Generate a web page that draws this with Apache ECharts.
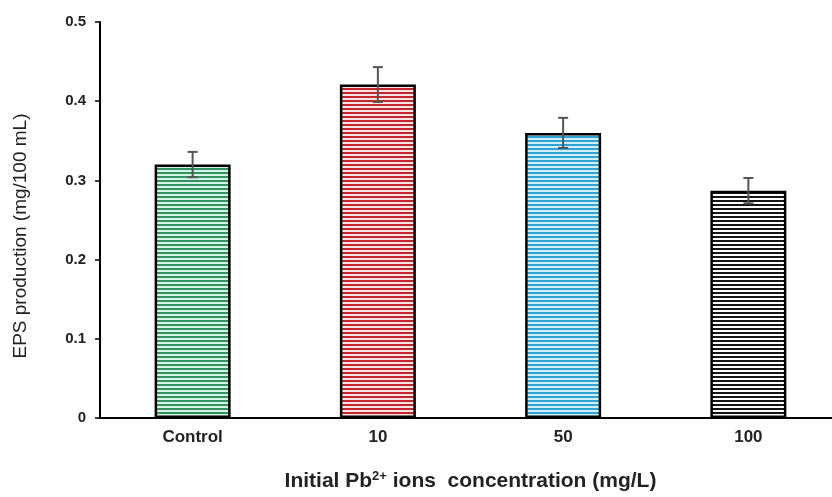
<!DOCTYPE html>
<html>
<head>
<meta charset="utf-8">
<script src="https://cdn.jsdelivr.net/npm/echarts@6/dist/echarts.min.js"></script>
<style>
  html, body { margin: 0; padding: 0; background: #fff; overflow: hidden; }
  #chart { width: 841px; height: 497px; }
</style>
</head>
<body>
<div id="chart"></div>
<script>
var categories = ["Control", "10", "50", "100"];
var epsValues = [0.320, 0.421, 0.360, 0.287];
var epsErrors = [0.016, 0.022, 0.019, 0.016];
var yTicks = [0, 0.1, 0.2, 0.3, 0.4, 0.5];

// striped fill colours per bar: [dark line, light gap]
var stripeColors = [
  ["#2f9461", "#d6f4e6"],
  ["#c3262c", "#fde3e3"],
  ["#2ea4d2", "#d2f0fb"],
  ["#141414", "#ffffff"]
];

function stripe(dark, light) {
  var c = document.createElement("canvas");
  c.width = 8;
  c.height = 4;
  var ctx = c.getContext("2d");
  ctx.fillStyle = light;
  ctx.fillRect(0, 0, 8, 4);
  ctx.fillStyle = dark;
  ctx.fillRect(0, 0, 8, 2);
  return { image: c, repeat: "repeat" };
}

var myChart = echarts.init(document.getElementById("chart"));

var barData = epsValues.map(function (v, i) {
  return {
    value: v,
    itemStyle: { color: stripe(stripeColors[i][0], stripeColors[i][1]) }
  };
});

var errData = epsValues.map(function (v, i) {
  return [i, v - epsErrors[i], v + epsErrors[i]];
});

var option = {
  animation: false,
  grid: { left: 100, right: 0, top: 22, height: 396, containLabel: false },
  xAxis: {
    type: "category",
    data: categories,
    axisLine: { lineStyle: { color: "#000", width: 2 } },
    axisTick: { show: false },
    axisLabel: {
      color: "#222",
      fontFamily: "Liberation Sans",
      fontWeight: "bold",
      fontSize: 17,
      margin: 11
    },
    name: "Initial Pb{sup|2+} ions  concentration (mg/L)",
    nameLocation: "middle",
    nameGap: 52,
    nameTextStyle: {
      color: "#222",
      fontFamily: "Liberation Sans",
      fontWeight: "bold",
      fontSize: 21,
      rich: {
        sup: {
          fontFamily: "Liberation Sans",
          fontWeight: "bold",
          fontSize: 13,
          verticalAlign: "top",
          padding: [0, 0, 9, 0],
          color: "#222"
        }
      }
    }
  },
  yAxis: {
    type: "value",
    min: 0,
    max: 0.5,
    interval: 0.1,
    splitLine: { show: false },
    axisLine: { show: true, lineStyle: { color: "#000", width: 2 } },
    axisTick: { show: true, length: 5, lineStyle: { color: "#000", width: 1.5 } },
    axisLabel: {
      color: "#222",
      fontFamily: "Liberation Sans",
      fontWeight: "bold",
      fontSize: 15,
      margin: 14,
      formatter: function (v) {
        var t = yTicks.find(function (x) { return Math.abs(x - v) < 1e-9; });
        return t === 0 ? "0" : String(t);
      }
    },
    name: "EPS production (mg/100 mL)",
    nameLocation: "middle",
    nameGap: 70,
    nameRotate: 90,
    nameTextStyle: {
      color: "#222",
      fontFamily: "Liberation Sans",
      fontSize: 19,
      padding: [0, 32, 0, 0]
    }
  },
  series: [
    {
      type: "bar",
      data: barData,
      barWidth: 76,
      itemStyle: { borderColor: "#000", borderWidth: 2.5 }
    },
    {
      type: "custom",
      data: errData,
      z: 5,
      renderItem: function (params, api) {
        var i = api.value(0);
        var lo = api.coord([i, api.value(1)]);
        var hi = api.coord([i, api.value(2)]);
        var hw = 5;
        var style = { stroke: "#555", lineWidth: 2 };
        return {
          type: "group",
          children: [
            { type: "line", shape: { x1: lo[0], y1: lo[1], x2: hi[0], y2: hi[1] }, style: style },
            { type: "line", shape: { x1: hi[0] - hw, y1: hi[1], x2: hi[0] + hw, y2: hi[1] }, style: style },
            { type: "line", shape: { x1: lo[0] - hw, y1: lo[1], x2: lo[0] + hw, y2: lo[1] }, style: style }
          ]
        };
      }
    }
  ]
};

myChart.setOption(option);
</script>
</body>
</html>
